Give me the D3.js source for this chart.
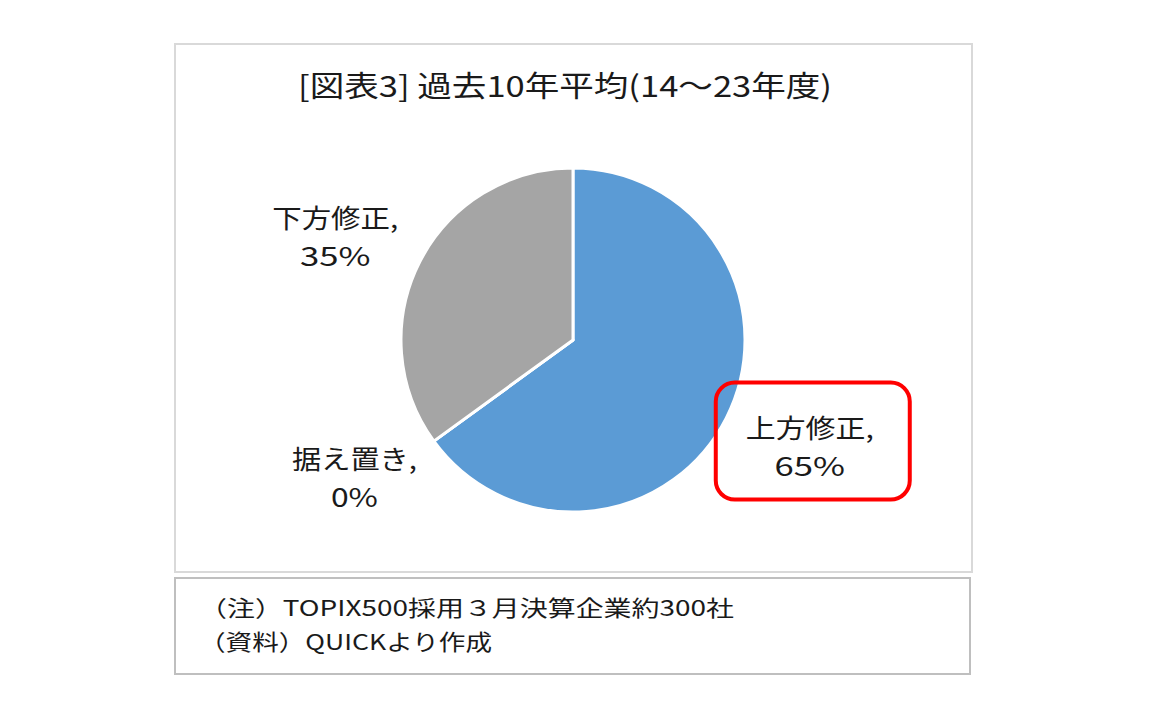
<!DOCTYPE html>
<html><head><meta charset="utf-8">
<script src="https://cdn.jsdelivr.net/npm/d3@7"></script>
<style>
html,body{margin:0;padding:0;background:#fff;}
svg{display:block;}
text{font-family:"Noto Sans CJK JP","Noto Sans",sans-serif;fill:#1a1a1a;}
</style></head><body>
<script>
const categories = ["上方修正", "据え置き", "下方修正"];
const values = [65, 0, 35];
const colors = ["#5b9bd5", "#ed7d31", "#a5a5a5"];
const titleText = "[図表3] 過去10年平均(14～23年度)";
const notes = ["（注）TOPIX500採用３月決算企業約300社", "（資料）QUICKより作成"];

const W = 1152, H = 715;
const svg = d3.select("body").append("svg").attr("width", W).attr("height", H);

// frames
svg.append("rect").attr("x", 175).attr("y", 44).attr("width", 797).attr("height", 528)
  .attr("fill", "#fff").attr("stroke", "#d9d9d9").attr("stroke-width", 2);
svg.append("rect").attr("x", 175).attr("y", 578).attr("width", 795).attr("height", 96)
  .attr("fill", "#fff").attr("stroke", "#bfbfbf").attr("stroke-width", 2);

// title
svg.append("text").attr("x", 565).attr("y", 84).attr("text-anchor", "middle")
  .attr("dominant-baseline", "central").attr("font-size", 29)
  .attr("textLength", 534).attr("lengthAdjust", "spacingAndGlyphs")
  .text(titleText);

// pie
const cx = 573, cy = 340, r = 172;
const pie = d3.pie().sort(null).value(d => d.v);
const data = pie(categories.map((c, i) => ({c, v: values[i], col: colors[i]})));
const arc = d3.arc().innerRadius(0).outerRadius(r);
const g = svg.append("g").attr("transform", `translate(${cx},${cy})`);
g.selectAll("path").data(data).join("path")
  .attr("d", arc).attr("fill", d => d.data.col)
  .attr("stroke", "#fff").attr("stroke-width", 3).attr("stroke-linejoin", "round");

// labels (placed outside the slice along its mid-angle, with small nudges)
const labelR = 259;
const nudge = [[6, -12], [-9, -16], [-7, 13]];
const w1 = [128, 125, 126];
data.forEach((d, i) => {
  const a = (d.startAngle + d.endAngle) / 2;
  const x = cx + labelR * Math.sin(a) + nudge[i][0];
  const y = cy - labelR * Math.cos(a) + nudge[i][1];
  if (i === 0) {
    svg.append("rect").attr("x", x - 94).attr("y", y - 63).attr("width", 194).attr("height", 117)
      .attr("rx", 19).attr("fill", "none").attr("stroke", "#ff0000").attr("stroke-width", 4);
  }
  const pct = d.data.v + "%";
  svg.append("text").attr("x", x).attr("y", y - 19).attr("text-anchor", "middle")
    .attr("dominant-baseline", "central").attr("font-size", 26)
    .attr("textLength", w1[i]).attr("lengthAdjust", "spacingAndGlyphs")
    .text(d.data.c + ",");
  svg.append("text").attr("x", x).attr("y", y + 19).attr("text-anchor", "middle")
    .attr("dominant-baseline", "central").attr("font-size", 26)
    .attr("textLength", pct.length * 23.5).attr("lengthAdjust", "spacingAndGlyphs")
    .text(pct);
});

// notes
const noteW = [535, 293];
notes.forEach((n, i) => {
  svg.append("text").attr("x", 199).attr("y", 606 + i * 34).attr("dominant-baseline", "central")
    .attr("font-size", 22).attr("textLength", noteW[i]).attr("lengthAdjust", "spacingAndGlyphs")
    .text(n);
});
</script>
</body></html>
